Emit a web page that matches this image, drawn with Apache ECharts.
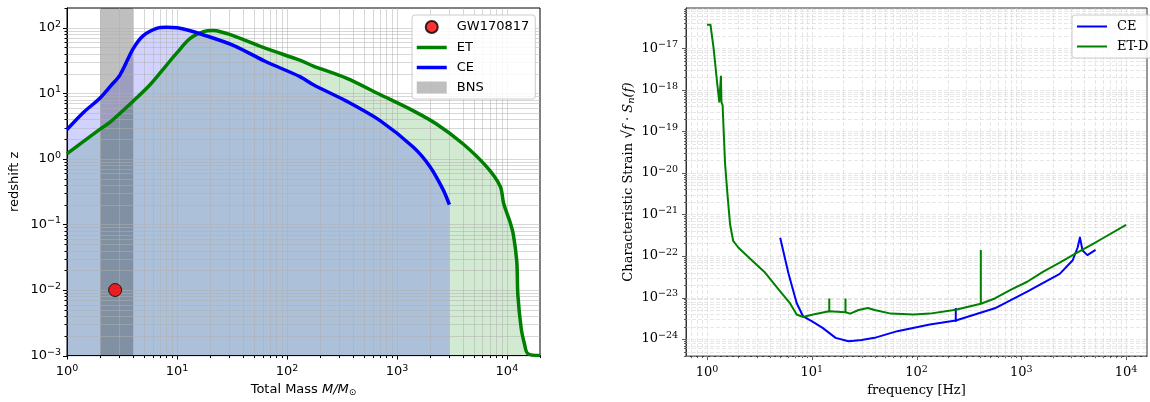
<!DOCTYPE html>
<html><head><meta charset="utf-8">
<script src="https://cdn.jsdelivr.net/npm/echarts@6/dist/echarts.min.js"></script>
<style>html,body{margin:0;padding:0;background:#fff}#c{width:1150px;height:402px}</style>
</head><body><div id="c"></div>
<script>
// ---- Left panel: detection horizon (redshift vs total mass) ----
const etMass = [1, 2, 2.45, 4, 5.69, 8.05, 9.93, 13.1, 17.4, 21, 22.9, 32.4, 65.3, 131, 174, 347, 708, 1413, 2290, 3981, 6531, 8710, 9333, 10715, 11482, 12303, 12590, 13490, 14454, 15488, 20000];
const etZ    = [1.2, 2.85, 3.6, 7.6, 13.5, 27, 41, 68, 87, 91, 90, 76, 48, 32, 26, 17, 9.5, 5.4, 3.4, 1.7, 0.76, 0.38, 0.21, 0.107, 0.068, 0.027, 0.0083, 0.0026, 0.0015, 0.00107, 0.001];
const ceMass = [1, 1.41, 2, 2.5, 3.03, 4, 4.94, 6.53, 8.05, 10, 12.2, 16.2, 32.5, 65.3, 131, 174, 347, 708, 1413, 2000, 2630, 3000];
const ceZ    = [2.8, 5.1, 8.5, 13, 19, 48, 76, 98, 102, 100, 93, 81, 54, 30, 18, 13.5, 7.6, 3.8, 1.5, 0.76, 0.34, 0.2];
const gwPoint = [2.74, 0.01];
const bnsRange = [2, 4];

// ---- Right panel: characteristic strain vs frequency ----
const etdFreq   = [1.0, 1.08, 1.16, 1.25, 1.31, 1.345, 1.36, 1.375, 1.41, 1.49, 1.58, 1.66, 1.78, 1.99, 2.6, 3.52, 4.8, 6.22, 7.18, 8.28, 10.3, 14.7, 21, 23.3, 28, 34.3, 39.8, 56.9, 93.8, 134, 237, 411, 559, 798, 1140, 1622, 2328, 3311, 4750, 5890, 10000];
const etdStrain = [3.7e-17, 3.7e-17, 9.5e-18, 1.5e-18, 5.2e-19, 5.0e-19, 2.1e-18, 5.0e-19, 4.3e-19, 1.6e-20, 2.5e-21, 5.9e-22, 2.3e-22, 1.6e-22, 8.5e-23, 4.2e-23, 1.6e-23, 7.2e-24, 3.9e-24, 3.4e-24, 3.9e-24, 4.7e-24, 4.4e-24, 4.1e-24, 5.0e-24, 5.6e-24, 5.0e-24, 4.1e-24, 3.9e-24, 4.1e-24, 5.1e-24, 7.1e-24, 9.5e-24, 1.55e-23, 2.4e-23, 4.2e-23, 6.9e-23, 1.15e-22, 1.9e-22, 2.6e-22, 5.6e-22];
const etdSpikeFreq = [14.7, 21, 411];
const etdSpikeBase = [4.7e-24, 4.4e-24, 7.1e-24];
const etdSpikeTop  = [9.5e-24, 9.5e-24, 1.4e-22];
const ceFreq    = [5.0, 6.0, 7.18, 8.28, 10, 12.7, 16.9, 22.5, 29.9, 39.8, 65.6, 134, 237, 559, 1140, 2328, 3097, 3451, 3631, 3846, 4276, 5117];
const ceStrain  = [2.75e-22, 3.8e-23, 7.4e-24, 3.5e-24, 2.7e-24, 1.86e-24, 1.07e-24, 8.9e-25, 9.5e-25, 1.07e-24, 1.55e-24, 2.24e-24, 2.8e-24, 5.5e-24, 1.38e-23, 3.7e-23, 7.9e-23, 1.6e-22, 2.8e-22, 1.35e-22, 1.05e-22, 1.4e-22];
const ceSpikeFreq = [237];
const ceSpikeBase = [2.6e-24];
const ceSpikeTop  = [5.6e-24];

const L = Math.log10;
const pts = (xs, ys) => xs.map((x, i) => [L(x), L(ys[i])]);
const spikePts = (fs, lo, hi) => {
  const out = [];
  fs.forEach((f, i) => { out.push([L(f), L(lo[i])], [L(f), L(hi[i])], [L(f), '-']); });
  return out;
};

const leftX = [0, L(20000)], leftY = [-3, L(200)];
const rightX = [-0.2, 4.2], rightY = [-24.41, -16.03];

function powLabel(v) {
  if (Math.abs(v - Math.round(v)) > 1e-6) return '';
  const e = Math.round(v);
  return '{b|10}{s|' + (e < 0 ? '\u2212' + (-e) : e) + '}';
}

function decor(gi, xr, yr, st) {
  return {
    type: 'custom', xAxisIndex: gi, yAxisIndex: gi, z: st.z, silent: true, clip: false,
    data: [[xr[0], yr[0]]],
    renderItem: function (params, api) {
      const ch = [];
      const eps = 1e-6;
      for (let n = Math.floor(xr[0]); n <= Math.ceil(xr[1]); n++) {
        for (let k = 1; k <= 9; k++) {
          const v = n + Math.log10(k);
          if (v < xr[0] - eps || v > xr[1] + eps) continue;
          const p0 = api.coord([v, yr[0]]), p1 = api.coord([v, yr[1]]);
          const x = Math.round(p0[0]) + 0.5;
          if (v > xr[0] + eps && v < xr[1] - eps)
            ch.push({ type: 'line', shape: { x1: x, y1: p1[1], x2: x, y2: p0[1] }, style: st.grid });
          const len = k === 1 ? st.major : st.minor;
          ch.push({ type: 'line', shape: { x1: x, y1: p0[1], x2: x, y2: p0[1] + len }, style: st.tick });
        }
      }
      for (let n = Math.floor(yr[0]); n <= Math.ceil(yr[1]); n++) {
        for (let k = 1; k <= 9; k++) {
          const v = n + Math.log10(k);
          if (v < yr[0] - eps || v > yr[1] + eps) continue;
          const p0 = api.coord([xr[0], v]), p1 = api.coord([xr[1], v]);
          const y = Math.round(p0[1]) + 0.5;
          if (v > yr[0] + eps && v < yr[1] - eps)
            ch.push({ type: 'line', shape: { x1: p0[0], y1: y, x2: p1[0], y2: y }, style: st.grid });
          const len = k === 1 ? st.major : st.minor;
          ch.push({ type: 'line', shape: { x1: p0[0] - len, y1: y, x2: p0[0], y2: y }, style: st.tick });
        }
      }
      return { type: 'group', children: ch };
    }
  };
}

const sans = 'DejaVu Sans', serif = 'DejaVu Serif';
const richSans = { b: { fontFamily: sans, fontSize: 13, color: '#000' }, s: { fontFamily: sans, fontSize: 9.5, color: '#000', padding: [0, 0, 7, 0] } };
const richSerif = { b: { fontFamily: serif, fontSize: 13, color: '#000' }, s: { fontFamily: serif, fontSize: 9.5, color: '#000', padding: [0, 0, 7, 0] } };

const chart = echarts.init(document.getElementById('c'), null, { renderer: 'canvas' });
const option = {
  animation: false,
  backgroundColor: '#fff',
  grid: [
    { left: 67, top: 8, width: 473, height: 352, show: true, borderColor: '#000', borderWidth: 1, backgroundColor: 'transparent' },
    { left: 686, top: 8, width: 473, height: 352, show: true, borderColor: '#333', borderWidth: 1, backgroundColor: 'transparent' }
  ],
  xAxis: [
    { type: 'value', gridIndex: 0, min: leftX[0], max: leftX[1], splitNumber: 4,
      axisLine: { show: true, onZero: false, lineStyle: { color: '#000' } }, axisTick: { show: false }, splitLine: { show: false },
      axisLabel: { formatter: powLabel, rich: richSans, margin: 8 },
      name: '{t|Total Mass }{i|M/M}{u|\u2299}', nameLocation: 'middle', nameGap: 26,
      nameTextStyle: { rich: { t: { fontFamily: sans, fontSize: 13, color: '#000' }, i: { fontFamily: sans, fontSize: 13, fontStyle: 'italic', color: '#000' }, u: { fontFamily: sans, fontSize: 9, color: '#000', padding: [5, 0, 0, 0] } } } },
    { type: 'value', gridIndex: 1, min: rightX[0], max: rightX[1], splitNumber: 4,
      axisLine: { show: true, onZero: false, lineStyle: { color: '#333' } }, axisTick: { show: false }, splitLine: { show: false },
      axisLabel: { formatter: powLabel, rich: richSerif, margin: 8 },
      name: 'frequency [Hz]', nameLocation: 'middle', nameGap: 26,
      nameTextStyle: { fontFamily: serif, fontSize: 13, color: '#000' } }
  ],
  yAxis: [
    { type: 'value', gridIndex: 0, min: leftY[0], max: leftY[1], splitNumber: 5,
      axisLine: { show: true, onZero: false, lineStyle: { color: '#000' } }, axisTick: { show: false }, splitLine: { show: false },
      axisLabel: { formatter: powLabel, rich: richSans, margin: 6 },
      name: 'redshift z', nameLocation: 'middle', nameGap: 46,
      nameTextStyle: { fontFamily: sans, fontSize: 13, color: '#000' } },
    { type: 'value', gridIndex: 1, min: rightY[0], max: rightY[1], splitNumber: 8,
      axisLine: { show: true, onZero: false, lineStyle: { color: '#333' } }, axisTick: { show: false }, splitLine: { show: false },
      axisLabel: { formatter: powLabel, rich: richSerif, margin: 8 },
      name: '{t|Characteristic Strain }{r|\u221A}{o|f \u00B7 S}{n|n}{o|(f)}', nameLocation: 'middle', nameGap: 50,
      nameTextStyle: { rich: {
        t: { fontFamily: serif, fontSize: 13, color: '#000' },
        r: { fontFamily: serif, fontSize: 14, color: '#000' },
        o: { fontFamily: serif, fontSize: 13, fontStyle: 'italic', color: '#000' },
        n: { fontFamily: serif, fontSize: 10, fontStyle: 'italic', color: '#000', padding: [5, 0, 0, 0] } } } }
  ],
  legend: [
    { data: [{ name: 'GW170817', icon: 'circle' },
             { name: 'ET', itemStyle: { opacity: 0 }, lineStyle: { width: 3.5, color: 'green' } },
             { name: 'CE', itemStyle: { opacity: 0 }, lineStyle: { width: 3.5, color: 'blue' } },
             { name: 'BNS', icon: 'rect' }],
      z: 20, orient: 'vertical', left: 412, top: 15, itemWidth: 30, itemHeight: 12, itemGap: 7,
      padding: [5, 6, 5, 3], backgroundColor: 'rgba(255,255,255,0.85)', borderColor: '#cccccc', borderWidth: 1, borderRadius: 3,
      textStyle: { fontFamily: sans, fontSize: 13, color: '#000', padding: [0, 0, 0, 5] }, selectedMode: false },
    { data: [{ name: 'CE (ASD)', itemStyle: { opacity: 0 }, lineStyle: { width: 2, color: 'blue' } },
             { name: 'ET-D', itemStyle: { opacity: 0 }, lineStyle: { width: 2, color: 'green' } }],
      formatter: n => (n === 'CE (ASD)' ? 'CE' : n),
      z: 20, orient: 'vertical', left: 1072, top: 15, itemWidth: 30, itemHeight: 12, itemGap: 7,
      padding: [5, 6, 5, 4], backgroundColor: 'rgba(255,255,255,0.85)', borderColor: '#cccccc', borderWidth: 1, borderRadius: 3,
      textStyle: { fontFamily: serif, fontSize: 13, color: '#000', padding: [0, 0, 0, 5] }, selectedMode: false }
  ],
  series: [
    { name: 'ET fill', type: 'line', xAxisIndex: 0, yAxisIndex: 0, data: pts(etMass, etZ), symbol: 'none', smooth: 0.3,
      lineStyle: { width: 0, opacity: 0 }, areaStyle: { color: 'rgba(0,128,0,0.25)', origin: 'start' }, z: 1, silent: true },
    { name: 'CE fill', type: 'line', xAxisIndex: 0, yAxisIndex: 0, data: pts(ceMass, ceZ), symbol: 'none', smooth: 0.3,
      lineStyle: { width: 0, opacity: 0 }, areaStyle: { color: 'rgba(0,0,255,0.25)', origin: 'start' }, z: 2, silent: true },
    { name: 'BNS', type: 'custom', xAxisIndex: 0, yAxisIndex: 0, z: 3, silent: true,
      itemStyle: { color: 'rgba(0,0,0,0.25)' },
      data: [[L(bnsRange[0]), L(bnsRange[1])]],
      renderItem: function (params, api) {
        const a = api.coord([api.value(0), leftY[1]]);
        const b = api.coord([api.value(1), leftY[0]]);
        return { type: 'rect', shape: { x: a[0], y: a[1], width: b[0] - a[0], height: b[1] - a[1] }, style: { fill: 'rgba(0,0,0,0.25)' } };
      } },
    decor(0, leftX, leftY, { z: 4, major: 4, minor: 2.5,
      grid: { stroke: 'rgba(176,176,176,0.5)', lineWidth: 1 }, tick: { stroke: '#000', lineWidth: 1 } }),
    { name: 'ET', type: 'line', xAxisIndex: 0, yAxisIndex: 0, data: pts(etMass, etZ), symbol: 'none', smooth: 0.3,
      color: 'green', lineStyle: { color: 'green', width: 3.5 }, z: 5 },
    { name: 'CE', type: 'line', xAxisIndex: 0, yAxisIndex: 0, data: pts(ceMass, ceZ), symbol: 'none', smooth: 0.3,
      color: 'blue', lineStyle: { color: 'blue', width: 3.5 }, z: 5 },
    { name: 'GW170817', type: 'scatter', xAxisIndex: 0, yAxisIndex: 0, data: [[L(gwPoint[0]), L(gwPoint[1])]],
      symbolSize: 13, itemStyle: { color: 'red', borderColor: '#000', borderWidth: 1 }, z: 6 },

    decor(1, rightX, rightY, { z: 1, major: 4, minor: 2,
      grid: { stroke: 'rgba(205,205,205,0.6)', lineWidth: 0.8, lineDash: [4, 2] }, tick: { stroke: '#333', lineWidth: 0.8 } }),
    { name: 'CE (ASD)', type: 'line', xAxisIndex: 1, yAxisIndex: 1, data: pts(ceFreq, ceStrain), symbol: 'none',
      color: 'blue', lineStyle: { color: 'blue', width: 2, join: 'round' }, z: 5 },
    { name: 'CE spikes', type: 'line', xAxisIndex: 1, yAxisIndex: 1, data: spikePts(ceSpikeFreq, ceSpikeBase, ceSpikeTop), symbol: 'none',
      connectNulls: false, color: 'blue', lineStyle: { color: 'blue', width: 2 }, z: 5, silent: true },
    { name: 'ET-D', type: 'line', xAxisIndex: 1, yAxisIndex: 1, data: pts(etdFreq, etdStrain), symbol: 'none',
      color: 'green', lineStyle: { color: 'green', width: 2, join: 'round' }, z: 5 },
    { name: 'ET-D spikes', type: 'line', xAxisIndex: 1, yAxisIndex: 1, data: spikePts(etdSpikeFreq, etdSpikeBase, etdSpikeTop), symbol: 'none',
      connectNulls: false, color: 'green', lineStyle: { color: 'green', width: 2 }, z: 5, silent: true }
  ]
};
chart.setOption(option);
</script>
</body></html>
